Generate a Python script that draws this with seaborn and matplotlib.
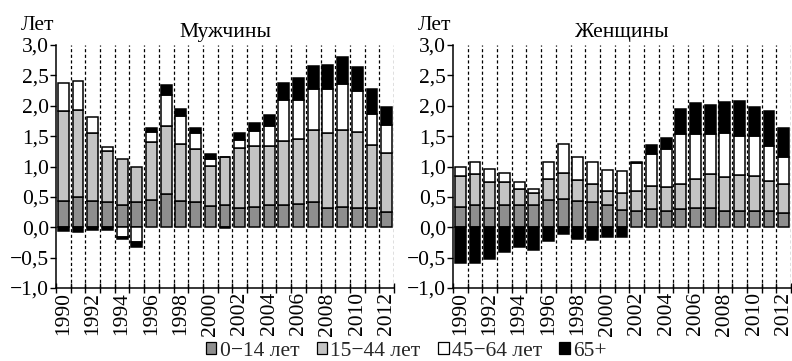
import numpy as np
import pandas as pd
import matplotlib
matplotlib.use("Agg")
import matplotlib.pyplot as plt
from matplotlib.patches import Patch
from matplotlib.ticker import FuncFormatter, FixedLocator
import seaborn as sns

years = list(range(1990, 2013))
groups = ["0\u221214 лет", "15\u221244 лет", "45\u221264 лет", "65+"]

men_0_14 = [0.43, 0.50, 0.43, 0.41, 0.37, 0.41, 0.45, 0.54, 0.43, 0.42, 0.35, 0.36,
            0.31, 0.34, 0.36, 0.37, 0.39, 0.41, 0.31, 0.33, 0.31, 0.31, 0.25]
men_15_44 = [1.48, 1.43, 1.12, 0.85, 0.75, 0.58, 0.96, 1.12, 0.94, 0.87, 0.66, 0.80,
             1.00, 1.00, 0.98, 1.05, 1.06, 1.19, 1.24, 1.27, 1.25, 1.04, 0.98]
men_45_64 = [0.47, 0.47, 0.26, 0.06, -0.16, -0.25, 0.15, 0.52, 0.46, 0.26, 0.11, 0.0,
             0.12, 0.24, 0.33, 0.67, 0.64, 0.67, 0.72, 0.75, 0.68, 0.52, 0.45]
men_65 = [-0.06, -0.08, -0.045, -0.045, -0.04, -0.08, 0.08, 0.16, 0.12, 0.08, 0.09, -0.015,
          0.12, 0.14, 0.18, 0.28, 0.36, 0.38, 0.40, 0.45, 0.40, 0.41, 0.30]

women_0_14 = [0.33, 0.36, 0.32, 0.37, 0.36, 0.36, 0.45, 0.46, 0.43, 0.42, 0.36, 0.29,
              0.26, 0.30, 0.27, 0.30, 0.32, 0.31, 0.27, 0.27, 0.26, 0.26, 0.24]
women_15_44 = [0.52, 0.52, 0.42, 0.38, 0.27, 0.20, 0.35, 0.44, 0.35, 0.30, 0.24, 0.28,
               0.34, 0.38, 0.39, 0.42, 0.47, 0.56, 0.55, 0.59, 0.58, 0.50, 0.47]
women_45_64 = [0.14, 0.20, 0.22, 0.15, 0.12, 0.07, 0.27, 0.47, 0.37, 0.36, 0.35, 0.36,
               0.46, 0.53, 0.63, 0.81, 0.74, 0.66, 0.73, 0.64, 0.66, 0.58, 0.45]
women_65 = [-0.59, -0.59, -0.53, -0.40, -0.33, -0.38, -0.22, -0.11, -0.19, -0.21, -0.16, -0.16,
            0.01, 0.14, 0.18, 0.41, 0.51, 0.48, 0.51, 0.57, 0.48, 0.57, 0.47]

titles = ["Мужчины", "Женщины"]
colors = ["#8e8e8e", "#c4c4c4", "#ffffff", "#000000"]

sns.set_theme(style="ticks")
plt.rcParams["font.family"] = ["Liberation Serif", "DejaVu Serif"]
plt.rcParams["axes.unicode_minus"] = True

fig = plt.figure(figsize=(7.92, 3.61), dpi=100)
bot, h = 1 - 288 / 361, (288 - 45) / 361
axes = [fig.add_axes([56 / 792, bot, 338 / 792, h]),
        fig.add_axes([453 / 792, bot, 338 / 792, h])]

datasets = [[men_0_14, men_15_44, men_45_64, men_65],
            [women_0_14, women_15_44, women_45_64, women_65]]

def fmt(v, pos):
    s = f"{v:.1f}".replace(".", ",")
    return s.replace("-", "\u2212")

for ax, series, title in zip(axes, datasets, titles):
    pos_base = np.zeros(len(years))
    neg_base = np.zeros(len(years))
    for vals, col, g in zip(series, colors, groups):
        vals = np.array(vals, dtype=float)
        bottoms = np.where(vals >= 0, pos_base, neg_base)
        df = pd.DataFrame({"year": [str(y) for y in years], "val": vals})
        sns.barplot(data=df, x="year", y="val", ax=ax, color=col, saturation=1,
                    width=0.74, bottom=bottoms, edgecolor="black", linewidth=1.1,
                    errorbar=None, zorder=3)
        pos_base = pos_base + np.where(vals >= 0, vals, 0)
        neg_base = neg_base + np.where(vals < 0, vals, 0)
    n = len(years)
    for b in np.arange(0.5, n, 1.0):
        ax.axvline(b, color="black", linestyle=(0, (2.5, 2)), linewidth=0.9, zorder=1)
    ax.set_xlim(-0.5, n - 0.5)
    ax.set_ylim(-1.0, 3.0)
    ax.set_yticks(np.arange(-1.0, 3.01, 0.5))
    ax.yaxis.set_major_formatter(FuncFormatter(fmt))
    ax.set_xticks(range(0, n, 2))
    ax.set_xticklabels([str(y) for y in years[::2]], rotation=90)
    ax.xaxis.set_minor_locator(FixedLocator(np.arange(-0.5, n, 1.0)))
    ax.tick_params(axis="x", which="major", length=0, pad=3, labelsize=15.5, colors="black")
    ax.tick_params(axis="x", which="minor", length=7, width=1, direction="inout", color="black")
    ax.tick_params(axis="y", length=4, width=1, direction="out", labelsize=15.5, pad=1,
                   colors="black")
    ax.set_xlabel("")
    ax.set_ylabel("")
    for s in ["top", "right"]:
        ax.spines[s].set_visible(False)
    for s in ["left", "bottom"]:
        ax.spines[s].set_color("black")
        ax.spines[s].set_linewidth(1.1)
    ax.set_title(title, fontsize=15.5, pad=6, color="black")
    ax.text(-0.105, 1.08, "Лет", transform=ax.transAxes, fontsize=15.5, ha="left",
            va="center", color="black")

handles = [Patch(facecolor=c, edgecolor="black", linewidth=0.9) for c in colors]
fig.legend(handles, groups, loc="center", bbox_to_anchor=(0.513, 0.027), ncol=4,
           frameon=False, fontsize=15.5, handlelength=0.5, handleheight=0.5,
           handletextpad=0.15, columnspacing=0.8, borderaxespad=0)

fig.savefig("out.png", dpi=100)
